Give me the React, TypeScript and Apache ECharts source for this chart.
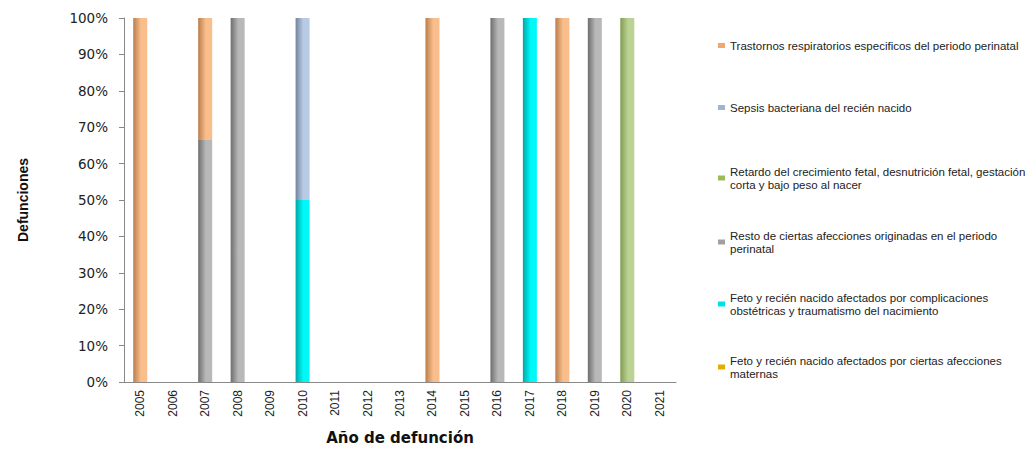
import React, { useEffect, useRef } from "react";
import * as echarts from "echarts";

const years = ["2005","2006","2007","2008","2009","2010","2011","2012","2013","2014","2015","2016","2017","2018","2019","2020","2021"];
const maternas = [0,0,0,0,0,0,0,0,0,0,0,0,0,0,0,0,0];
const complicaciones = [0,0,0,0,0,50,0,0,0,0,0,0,100,0,0,0,0];
const resto = [0,0,66.7,100,0,0,0,0,0,0,0,100,0,0,100,0,0];
const retardo = [0,0,0,0,0,0,0,0,0,0,0,0,0,0,0,100,0];
const sepsis = [0,0,0,0,0,50,0,0,0,0,0,0,0,0,0,0,0];
const trastornos = [100,0,33.3,0,0,0,0,0,0,100,0,0,0,100,0,0,0];
const yTicks = [0,10,20,30,40,50,60,70,80,90,100];

const names = {
  maternas: "Feto y recién nacido afectados por ciertas afecciones\nmaternas",
  complicaciones: "Feto y recién nacido afectados por complicaciones\nobstétricas y traumatismo del nacimiento",
  resto: "Resto de ciertas afecciones originadas en el periodo\nperinatal",
  retardo: "Retardo del crecimiento fetal, desnutrición fetal, gestación\ncorta y bajo peso al nacer",
  sepsis: "Sepsis bacteriana del recién nacido",
  trastornos: "Trastornos respiratorios especificos del periodo perinatal",
};

const grad = (a: string, b: string) =>
  new echarts.graphic.LinearGradient(0, 0, 1, 0, [
    { offset: 0, color: a },
    { offset: 0.55, color: b },
    { offset: 1, color: b },
  ]);

export default function App() {
  const ref = useRef<HTMLDivElement>(null);
  useEffect(() => {
    const chart = echarts.init(ref.current!, undefined, { renderer: "svg" });
    const seriesDefs = [
      { key: "maternas", data: maternas, c1: "#b88c00", c2: "#f0b400", legend: "#e8ac00" },
      { key: "complicaciones", data: complicaciones, c1: "#00a8a8", c2: "#00f8f8", legend: "#00e0e8" },
      { key: "resto", data: resto, c1: "#6e6e6e", c2: "#b8b8b8", legend: "#a0a0a0" },
      { key: "retardo", data: retardo, c1: "#7f9c50", c2: "#bcd294", legend: "#9bbb59" },
      { key: "sepsis", data: sepsis, c1: "#73849f", c2: "#b8cae4", legend: "#9fb3d4" },
      { key: "trastornos", data: trastornos, c1: "#bb7c4c", c2: "#f9be8c", legend: "#f0a870" },
    ];
    const legendTops = [346, 283, 221, 157, 93, 31];
    chart.setOption({
      animation: false,
      grid: { left: 110, top: 10, right: 350, bottom: 56, containLabel: false },
      legend: seriesDefs.map((s, i) => ({
        data: [{ name: names[s.key as keyof typeof names], itemStyle: { color: s.legend } }],
        left: 710,
        top: legendTops[i],
        padding: 0,
        orient: "vertical",
        itemWidth: 7,
        itemHeight: 5,
        itemGap: 4,
        icon: "rect",
        selectedMode: false,
        textStyle: { fontFamily: "Liberation Sans, Arial", fontSize: 11.5, color: "#222", lineHeight: 13 },
      })),
      xAxis: {
        type: "category",
        data: years,
        name: "Año de defunción",
        nameLocation: "middle",
        nameGap: 48,
        nameTextStyle: { fontFamily: "DejaVu Sans, Arial", fontWeight: "bold", fontSize: 15, color: "#111" },
        axisLine: { lineStyle: { color: "#888" } },
        axisTick: { lineStyle: { color: "#888" }, length: 4 },
        axisLabel: { rotate: 90, fontFamily: "Liberation Sans, Arial", fontSize: 12, color: "#222", margin: 8 },
      },
      yAxis: {
        type: "value",
        min: 0,
        max: 100,
        interval: 10,
        name: "Defunciones",
        nameLocation: "middle",
        nameGap: 94,
        nameRotate: 90,
        nameTextStyle: { fontFamily: "Liberation Sans Narrow, Liberation Sans, Arial", fontWeight: "bold", fontSize: 14, color: "#111" },
        axisLine: { show: true, lineStyle: { color: "#888" } },
        axisTick: { show: true, lineStyle: { color: "#888" }, length: 5 },
        splitLine: { show: false },
        axisLabel: {
          fontFamily: "DejaVu Sans, Arial",
          fontSize: 13.5,
          color: "#222",
          margin: 16,
          formatter: (v: number) => (yTicks.includes(v) ? v + "%" : ""),
        },
      },
      series: seriesDefs.map((s) => ({
        name: names[s.key as keyof typeof names],
        type: "bar",
        stack: "total",
        barWidth: 14,
        data: s.data,
        itemStyle: { color: grad(s.c1, s.c2) },
      })),
    });
    return () => chart.dispose();
  }, []);
  return <div ref={ref} style={{ width: 1018, height: 442 }} />;
}
